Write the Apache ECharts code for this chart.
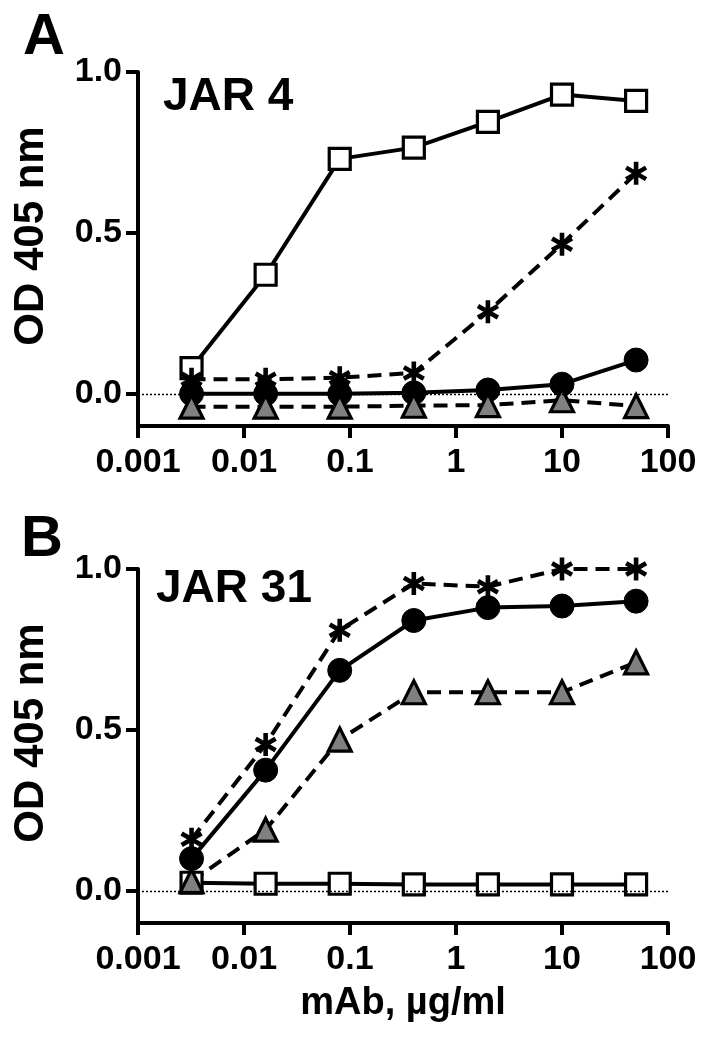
<!DOCTYPE html>
<html>
<head>
<meta charset="utf-8">
<script src="https://cdn.jsdelivr.net/npm/echarts@6/dist/echarts.min.js"></script>
<style>
html,body{margin:0;padding:0;background:#fff;}
#chart{width:705px;height:1044px;}
</style>
</head>
<body>
<div id="chart"></div>
<script>
// ---- data ----
const xVals = [0.0032, 0.016, 0.08, 0.4, 2, 10, 50];
const xTickLabels = ['0.001', '0.01', '0.1', '1', '10', '100'];
const yTickValues = [0, 0.5, 1.0];
const panelLetters = ['A', 'B'];
const panelTitles = ['JAR 4', 'JAR 31'];
const yAxisTitle = 'OD 405 nm';
const xAxisTitle = 'mAb, \u00B5g/ml';

// Panel A (JAR 4)
const squareA = [0.08, 0.37, 0.73, 0.765, 0.845, 0.93, 0.91];
const starA   = [0.045, 0.045, 0.05, 0.065, 0.255, 0.465, 0.685];
const circleA = [0.0, 0.0, 0.0, 0.003, 0.012, 0.03, 0.105];
const triA    = [-0.04, -0.04, -0.04, -0.037, -0.035, -0.02, -0.038];

// Panel B (JAR 31)
const squareB = [0.025, 0.022, 0.022, 0.02, 0.02, 0.02, 0.02];
const starB   = [0.16, 0.455, 0.81, 0.955, 0.945, 1.0, 1.0];
const circleB = [0.10, 0.375, 0.685, 0.84, 0.88, 0.885, 0.9];
const triB    = [0.03, 0.19, 0.47, 0.617, 0.617, 0.617, 0.71];

// ---- asterisk symbol path (6 arms) ----
function asteriskPath() {
  const L = 10, w = 2.0;
  let d = '';
  [90, 30, -30].forEach(function (deg) {
    const a = deg * Math.PI / 180;
    const ux = Math.cos(a), uy = Math.sin(a);
    const px = -uy, py = ux;
    const pts = [
      [ L*ux + w*px,  L*uy + w*py],
      [-L*ux + w*px, -L*uy + w*py],
      [-L*ux - w*px, -L*uy - w*py],
      [ L*ux - w*px,  L*uy - w*py]
    ];
    d += 'M' + pts.map(p => p[0].toFixed(3) + ',' + p[1].toFixed(3)).join(' L') + ' Z ';
  });
  return 'path://' + d;
}
const STAR = asteriskPath();

const FONT = '"Liberation Sans", Arial, Helvetica, sans-serif';
const LW = 4;
const DASH = [14, 8];
const pair = arr => xVals.map((x, i) => [x, arr[i]]);

function makeSeries(gi, sq, st, ci, tr) {
  const base = {type: 'line', xAxisIndex: gi, yAxisIndex: gi, animation: false, silent: true};
  return [
    Object.assign({}, base, {
      name: 'square' + gi, data: pair(sq), symbol: 'rect', symbolSize: 21,
      lineStyle: {color: '#000', width: LW},
      itemStyle: {color: '#fff', borderColor: '#000', borderWidth: 3.2},
      markLine: {
        silent: true, symbol: 'none', label: {show: false}, animation: false,
        lineStyle: {type: [2, 2], width: 1.3, color: '#000'},
        data: [{yAxis: 0}]
      }
    }),
    Object.assign({}, base, {
      name: 'star' + gi, data: pair(st), symbol: STAR, symbolSize: 23, symbolKeepAspect: true,
      lineStyle: {color: '#000', width: LW, type: DASH},
      itemStyle: {color: '#000', borderWidth: 0}
    }),
    Object.assign({}, base, {
      name: 'circle' + gi, data: pair(ci), symbol: 'circle', symbolSize: 24,
      lineStyle: {color: '#000', width: LW},
      itemStyle: {color: '#000', borderColor: '#000', borderWidth: 1}
    }),
    Object.assign({}, base, {
      name: 'tri' + gi, data: pair(tr), symbol: 'triangle', symbolSize: 23,
      lineStyle: {color: '#000', width: LW, type: DASH},
      itemStyle: {color: '#808080', borderColor: '#000', borderWidth: 3.2}
    })
  ];
}

function makeXAxis(gi, withName) {
  return {
    type: 'log', logBase: 10, gridIndex: gi, min: 0.001, max: 100, splitNumber: 5,
    name: withName ? xAxisTitle : '',
    nameLocation: 'middle', nameGap: 62,
    nameTextStyle: {fontSize: 38, fontWeight: 'bold', color: '#000', fontFamily: FONT},
    axisLine: {show: true, onZero: false, lineStyle: {color: '#000', width: 4}},
    axisTick: {show: true, length: 12, lineStyle: {color: '#000', width: 4}},
    minorTick: {show: false},
    splitLine: {show: false},
    axisLabel: {
      fontSize: 34, fontWeight: 'bold', color: '#000', fontFamily: FONT, margin: 20,
      formatter: function (v) {
        const e = Math.round(Math.log10(v));
        return xTickLabels[e + 3] || '';
      }
    }
  };
}

function makeYAxis(gi) {
  return {
    type: 'value', gridIndex: gi, min: -0.1, max: 1.0,
    name: yAxisTitle, nameLocation: 'middle', nameGap: 86, nameRotate: 90,
    nameTextStyle: {fontSize: 42, fontWeight: 'bold', color: '#000', fontFamily: FONT, padding: [0, 0, 0, 26]},
    axisLine: {show: true, onZero: false, lineStyle: {color: '#000', width: 4}},
    axisTick: {show: true, length: 12, lineStyle: {color: '#000', width: 4}, customValues: yTickValues},
    splitLine: {show: false},
    axisLabel: {
      fontSize: 34, fontWeight: 'bold', color: '#000', fontFamily: FONT, margin: 16,
      customValues: yTickValues,
      formatter: v => Number(v).toFixed(1)
    }
  };
}

const titleStyle = (size) => ({fontSize: size, fontWeight: 'bold', color: '#000', fontFamily: FONT});

const option = {
  backgroundColor: '#fff',
  animation: false,
  title: [
    {text: panelLetters[0], left: 23, top: 9, padding: 0, textStyle: titleStyle(58)},
    {text: panelLetters[1], left: 21, top: 511, padding: 0, textStyle: titleStyle(58)},
    {text: panelTitles[0], left: 163, top: 74, padding: 0, textStyle: titleStyle(46)},
    {text: panelTitles[1], left: 156, top: 566, padding: 0, textStyle: titleStyle(46)}
  ],
  grid: [
    {left: 138, right: 37, top: 72, height: 354},
    {left: 138, right: 37, top: 569, height: 354}
  ],
  xAxis: [makeXAxis(0, false), makeXAxis(1, true)],
  yAxis: [makeYAxis(0), makeYAxis(1)],
  series: [].concat(
    makeSeries(0, squareA, starA, circleA, triA),
    makeSeries(1, squareB, starB, circleB, triB)
  )
};

const chart = echarts.init(document.getElementById('chart'), null, {renderer: 'canvas'});
chart.setOption(option);
</script>
</body>
</html>
